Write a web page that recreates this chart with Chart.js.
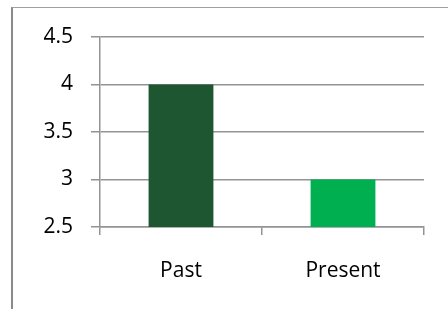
<!DOCTYPE html>
<html>
<head>
<meta charset="utf-8">
<script src="https://cdn.jsdelivr.net/npm/chart.js@4.4.1/dist/chart.umd.min.js"></script>
<style>
  html, body { margin: 0; padding: 0; background: #fff; }
  #wrap { position: relative; width: 448px; height: 309px; }
  #frame {
    position: absolute; left: 11px; top: 7px; right: 0; bottom: 0;
    border-left: 2px solid #8a8a8a; border-top: 1px solid #a0a0a0;
    pointer-events: none;
  }
</style>
</head>
<body>
<div id="wrap">
  <canvas id="chart" width="448" height="309"></canvas>
  <div id="frame"></div>
</div>
<script>
const categories = ['Past', 'Present'];
const values = [4, 3];
const barColors = ['#1D5631', '#00B050'];
const yMin = 2.5;
const yMax = 4.5;
const yStep = 0.5;

const gridGray = '#939393';

const ctx = document.getElementById('chart').getContext('2d');
const chart = new Chart(ctx, {
    type: 'bar',
    data: {
        labels: categories,
        datasets: [{
            data: values,
            backgroundColor: barColors,
            borderWidth: 0,
            barPercentage: 1.0,
            categoryPercentage: 0.4
        }]
    },
    options: {
        responsive: false,
        animation: false,
        layout: {
            padding: { left: 0, right: 24, top: 37, bottom: 0 }
        },
        plugins: {
            legend: { display: false },
            tooltip: { enabled: false }
        },
        scales: {
            x: {
                grid: {
                    offset: true,
                    drawOnChartArea: false,
                    drawTicks: true,
                    tickLength: 8,
                    color: gridGray,
                    lineWidth: 1.5
                },
                border: { display: true, color: gridGray, width: 1.5 },
                ticks: {
                    color: '#000',
                    padding: 23,
                    font: { family: 'Open Sans', size: 21 }
                },
                afterFit: function (scale) { scale.height = 82; }
            },
            y: {
                min: yMin,
                max: yMax,
                grid: {
                    color: gridGray,
                    lineWidth: 1.5,
                    drawTicks: true,
                    tickLength: 9
                },
                border: { display: true, color: gridGray, width: 1.5 },
                ticks: {
                    stepSize: yStep,
                    color: '#000',
                    padding: 18,
                    font: { family: 'Open Sans', size: 21 },
                    callback: function (value) { return String(value); }
                },
                afterFit: function (scale) { scale.width = 100; }
            }
        }
    }
});
</script>
</body>
</html>
